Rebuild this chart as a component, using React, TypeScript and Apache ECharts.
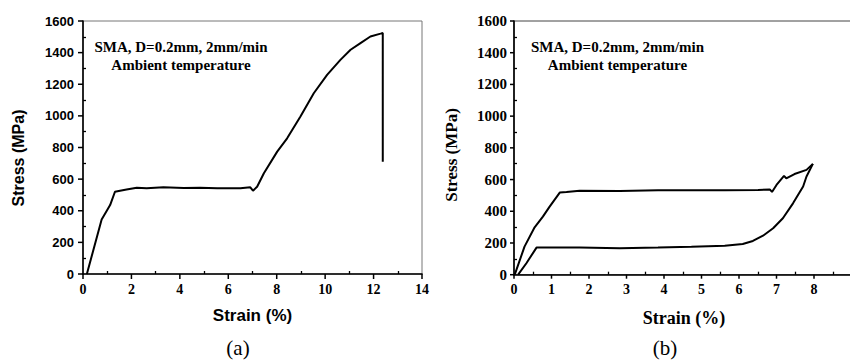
import React, { useEffect, useRef } from "react";
import * as echarts from "echarts";

// Panel (a): monotonic tensile test to failure
const strainA = [0.16, 0.77, 1.0, 1.12, 1.32, 1.53, 1.8, 2.22, 2.63, 3.32, 4.16, 4.83, 5.54, 6.5, 6.91, 7.02, 7.19, 7.47, 8.02, 8.43, 8.98, 9.53, 10.08, 10.63, 11.05, 11.46, 11.87, 12.29, 12.38, 12.38];
const stressA = [0, 345, 405, 436, 520, 527, 535, 546, 542, 548, 544, 546, 542, 542, 548, 527, 552, 637, 774, 858, 996, 1143, 1259, 1354, 1418, 1460, 1502, 1520, 1524, 710];

// Panel (b): loading / unloading cycle
const strainBLoad = [0.02, 0.28, 0.55, 0.77, 0.95, 1.22, 1.4, 1.75, 2.82, 3.84, 4.73, 5.62, 6.51, 6.82, 6.88, 7.0, 7.2, 7.26, 7.48, 7.8, 7.97];
const stressBLoad = [0, 177, 299, 366, 429, 518, 522, 530, 528, 532, 532, 532, 534, 538, 522, 566, 623, 608, 635, 661, 699];
const strainBUnload = [7.97, 7.8, 7.71, 7.44, 7.17, 6.91, 6.64, 6.37, 6.1, 5.62, 4.73, 3.84, 2.82, 1.75, 0.6, 0.33, 0.11];
const stressBUnload = [699, 619, 556, 450, 356, 293, 246, 213, 194, 183, 177, 172, 167, 171, 171, 72, 0];

const xTicksA = [0, 2, 4, 6, 8, 10, 12, 14];
const xTicksB = [0, 1, 2, 3, 4, 5, 6, 7, 8, 9];
const yTicks = [0, 200, 400, 600, 800, 1000, 1200, 1400, 1600];

const annotationLines = ["SMA, D=0.2mm, 2mm/min", "Ambient temperature"];

const SERIF = "'Liberation Serif', 'Times New Roman', serif";
const SANS = "'Liberation Sans', Arial, sans-serif";

function pairs(xs: number[], ys: number[]) {
  return xs.map((x, i) => [x, ys[i]]);
}

export default function App() {
  const ref = useRef<HTMLDivElement>(null);
  useEffect(() => {
    if (!ref.current) return;
    const chart = echarts.init(ref.current, undefined, { renderer: "svg" });
    const axisLine = { show: true, onZero: false, lineStyle: { color: "#000", width: 1.6 } };
    const noTick = { show: false };
    const minor = { show: true, splitNumber: 2, length: -3, lineStyle: { color: "#000", width: 1.3 } };
    const plain = (v: number) => String(v);
    const texts: any[] = [
      ...[181, 617.5].flatMap((cx) => [
        { type: "text", x: cx, y: 47, style: { text: annotationLines[0], fontFamily: SERIF, fontWeight: "bold", fontSize: 15, fill: "#000", align: "center", verticalAlign: "middle" } },
        { type: "text", x: cx, y: 65, style: { text: annotationLines[1], fontFamily: SERIF, fontWeight: "bold", fontSize: 15, fill: "#000", align: "center", verticalAlign: "middle" } },
      ]),
      { type: "text", x: 18, y: 158, rotation: Math.PI / 2, style: { text: "Stress (MPa)", fontFamily: SANS, fontWeight: "bold", fontSize: 16, fill: "#000", align: "center", verticalAlign: "middle" } },
      { type: "text", x: 252.5, y: 315, style: { text: "Strain (%)", fontFamily: SANS, fontWeight: "bold", fontSize: 17, fill: "#000", align: "center", verticalAlign: "middle" } },
      { type: "text", x: 451.7, y: 155, rotation: Math.PI / 2, style: { text: "Stress (MPa)", fontFamily: SERIF, fontWeight: "bold", fontSize: 17, fill: "#000", align: "center", verticalAlign: "middle" } },
      { type: "text", x: 684, y: 318, style: { text: "Strain (%)", fontFamily: SERIF, fontWeight: "bold", fontSize: 18, fill: "#000", align: "center", verticalAlign: "middle" } },
      { type: "text", x: 238, y: 348, style: { text: "(a)", fontFamily: SERIF, fontSize: 21, fill: "#000", align: "center", verticalAlign: "middle" } },
      { type: "text", x: 665, y: 348, style: { text: "(b)", fontFamily: SERIF, fontSize: 21, fill: "#000", align: "center", verticalAlign: "middle" } },
    ];
    const option: any = {
      animation: false,
      backgroundColor: "#fff",
      grid: [
        { left: 83, top: 21, width: 339, height: 253, show: true, borderColor: "#777", borderWidth: 1, backgroundColor: "transparent" },
        { left: 514, top: 21, width: 337.5, height: 253.7, show: true, borderColor: "#444", borderWidth: 1, backgroundColor: "transparent" },
      ],
      xAxis: [
        {
          type: "value", gridIndex: 0, min: xTicksA[0], max: xTicksA[xTicksA.length - 1], interval: 2,
          axisLine, axisTick: noTick, minorTick: minor, splitLine: { show: false },
          axisLabel: { margin: 8, color: "#000", fontFamily: SERIF, fontWeight: "bold", fontSize: 14, formatter: plain },
        },
        {
          type: "value", gridIndex: 1, min: xTicksB[0], max: xTicksB[xTicksB.length - 1], interval: 1,
          axisLine, axisTick: noTick, minorTick: minor, splitLine: { show: false },
          axisLabel: {
            margin: 8, color: "#000", fontFamily: SERIF, fontWeight: "bold", fontSize: 14,
            formatter: (v: number) => (v >= 9 ? "" : String(v)),
          },
        },
      ],
      yAxis: [
        {
          type: "value", gridIndex: 0, min: yTicks[0], max: yTicks[yTicks.length - 1], interval: 200,
          axisLine, axisTick: noTick, minorTick: minor, splitLine: { show: false },
          axisLabel: { margin: 9, color: "#000", fontFamily: SANS, fontWeight: "bold", fontSize: 13, formatter: plain },
        },
        {
          type: "value", gridIndex: 1, min: yTicks[0], max: yTicks[yTicks.length - 1], interval: 200,
          axisLine, axisTick: noTick, minorTick: minor, splitLine: { show: false },
          axisLabel: { margin: 7, color: "#000", fontFamily: SERIF, fontWeight: "bold", fontSize: 15, formatter: plain },
        },
      ],
      series: [
        {
          type: "line", xAxisIndex: 0, yAxisIndex: 0, data: pairs(strainA, stressA),
          showSymbol: false, lineStyle: { color: "#000", width: 2 }, z: 5,
        },
        {
          type: "line", xAxisIndex: 1, yAxisIndex: 1, data: pairs(strainBLoad, stressBLoad),
          showSymbol: false, lineStyle: { color: "#000", width: 2 }, z: 5,
        },
        {
          type: "line", xAxisIndex: 1, yAxisIndex: 1, data: pairs(strainBUnload, stressBUnload),
          showSymbol: false, lineStyle: { color: "#000", width: 2 }, z: 5,
        },
      ],
      graphic: { elements: texts },
    };
    chart.setOption(option);

    // outward major ticks, positioned through the library's own scales
    const ticks: any[] = [];
    const addTicks = (gridIndex: number, xs: number[], ys: number[], len: number) => {
      xs.forEach((v) => {
        try {
          const p = chart.convertToPixel({ gridIndex } as any, [v, 0]) as any;
          if (p && isFinite(p[0]) && isFinite(p[1])) {
            ticks.push({ type: "line", z: 100, shape: { x1: p[0], y1: p[1], x2: p[0], y2: p[1] + len }, style: { stroke: "#000", lineWidth: 1.5 } });
          }
        } catch (e) { /* ignore */ }
      });
      ys.forEach((v) => {
        try {
          const p = chart.convertToPixel({ gridIndex } as any, [0, v]) as any;
          if (p && isFinite(p[0]) && isFinite(p[1])) {
            ticks.push({ type: "line", z: 100, shape: { x1: p[0] - len, y1: p[1], x2: p[0], y2: p[1] }, style: { stroke: "#000", lineWidth: 1.5 } });
          }
        } catch (e) { /* ignore */ }
      });
    };
    addTicks(0, xTicksA, yTicks, 5);
    addTicks(1, xTicksB, yTicks, 4);
    if (ticks.length) {
      chart.setOption({ graphic: { elements: [...texts, ...ticks] } });
    }
    return () => chart.dispose();
  }, []);
  return (
    <div style={{ position: "fixed", left: 0, top: 0, width: 850, height: 362, overflow: "hidden", background: "#fff" }}>
      <div ref={ref} style={{ width: 870, height: 362 }} />
    </div>
  );
}
